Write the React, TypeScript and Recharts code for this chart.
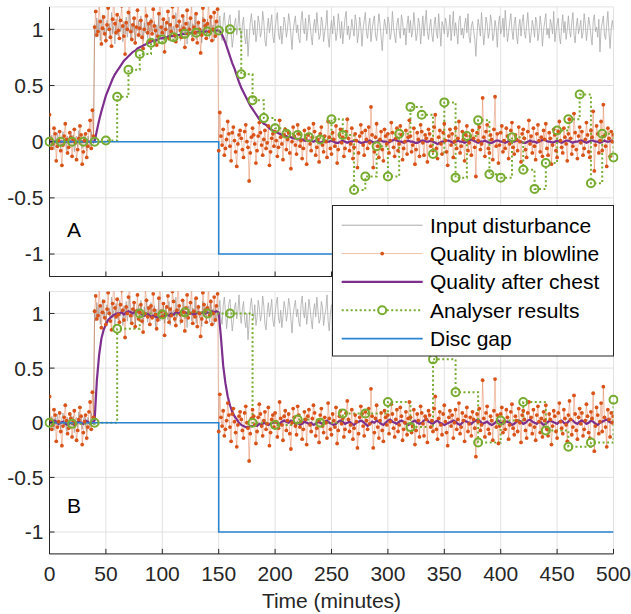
import { CartesianGrid, Line, LineChart, XAxis, YAxis } from "recharts";

const FONT = '"Liberation Sans", Arial, Helvetica, sans-serif';
const AXIS = "#262626";
const GRID = "#e2e2e2";
const ORANGE = "#D95319";
const PURPLE = "#7E2F8E";
const GREEN = "#77AC30";
const BLUE = "#2b84d0";
const GREY = "#aaaaaa";

const X_TICKS = [0, 50, 100, 150, 200, 250, 300, 350, 400, 450, 500];
const Y_TICKS = [-1, -0.5, 0, 0.5, 1];

// one value per minute, 0..500 (same signal in both panels)
const blowline = [
  0.24, 0.03, -0.06, -0.02, 0.12, 0.07, -0.17, -0.04, 0.01, 0.09,
  -0.08, -0.21, -0.03, 0.05, 0.16, 0.02, -0.1, -0.05, 0.08, 0.04,
  -0.13, 0.02, 0.11, -0.01, -0.16, -0.07, 0.03, 0.14, 0.06, -0.2,
  -0.09, 0.01, 0.07, -0.14, -0.04, 0.1, 0.19, -0.06, 0.28, 0.05,
  1.02, 1.16, 0.95, 0.98, 1.24, 1.07, 0.87, 1.01, 1.11, 0.96,
  0.9, 1.04, 1.19, 1.0, 0.93, 0.85, 1.09, 1.3, 1.05, 0.97,
  1.13, 0.99, 0.92, 1.08, 1.21, 1.03, 0.94, 0.78, 1.06, 1.0,
  1.15, 1.27, 0.98, 0.91, 1.04, 1.1, 0.88, 1.02, 1.17, 0.95,
  1.01, 1.08, 0.93, 0.83, 1.0, 1.22, 1.12, 0.97, 1.05, 0.9,
  1.07, 0.96, 1.18, 1.03, 0.99, 0.86, 0.94, 1.14, 1.25, 1.02,
  0.97, 1.09, 0.8, 1.0, 1.06, 1.16, 0.92, 1.04, 0.98, 1.2,
  1.11, 0.95, 0.89, 1.03, 1.28, 1.07, 0.99, 0.93, 1.12, 1.01,
  0.84, 1.05, 1.17, 0.96, 1.0, 1.1, 1.23, 0.91, 1.02, 0.97,
  1.14, 0.88, 1.06, 1.0, 0.79, 0.95, 1.19, 1.08, 1.03, 0.92,
  1.05, 1.26, 0.98, 1.11, 0.9, 1.0, 1.15, 0.94, 1.07, 1.18,
  -0.08, 0.26, 0.05, -0.03, 0.11, -0.12, -0.06, 0.02, 0.18, 0.07,
  -0.04, -0.17, 0.08, 0.13, 0.01, -0.09, -0.22, -0.02, 0.06, 0.1,
  0.03, -0.07, -0.14, 0.09, 0.15, 0.0, -0.05, -0.35, -0.1, 0.04,
  0.12, 0.06, -0.02, -0.19, -0.08, 0.05, 0.17, 0.08, -0.03, -0.12,
  0.02, 0.1, -0.06, -0.01, 0.14, -0.21, -0.09, 0.03, 0.07, -0.04,
  0.09, 0.01, -0.13, -0.05, 0.19, 0.04, -0.02, -0.16, 0.06, 0.11,
  -0.07, 0.02, 0.08, -0.1, -0.24, 0.0, 0.13, 0.05, -0.03, -0.11,
  0.15, 0.07, -0.04, 0.01, -0.15, -0.06, 0.1, 0.03, -0.2, 0.06,
  0.12, -0.02, -0.08, 0.04, 0.16, 0.09, -0.12, -0.05, 0.02, -0.18,
  0.07, 0.13, -0.03, -0.09, 0.05, 0.0, -0.14, 0.18, 0.04, -0.06,
  -0.11, 0.08, 0.02, -0.04, 0.14, -0.19, -0.07, 0.06, 0.11, -0.01,
  0.04, -0.13, -0.06, 0.09, 0.2, 0.03, -0.08, -0.02, 0.12, -0.15,
  -0.05, 0.07, 0.01, -0.23, -0.1, 0.05, 0.15, 0.08, -0.03, -0.12,
  0.1, 0.02, -0.06, 0.13, -0.01, 0.31, 0.06, -0.23, -0.09, 0.04,
  0.16, -0.04, -0.14, 0.02, 0.09, -0.07, -0.17, 0.11, 0.05, -0.02,
  0.07, -0.1, 0.01, 0.17, 0.08, -0.05, -0.13, 0.03, 0.12, -0.08,
  -0.02, 0.14, 0.06, -0.16, -0.06, 0.0, 0.1, -0.11, 0.04, 0.19,
  0.05, -0.09, -0.03, 0.12, -0.2, -0.07, 0.08, 0.02, -0.13, 0.15,
  0.09, -0.01, -0.12, 0.06, 0.03, -0.18, 0.11, 0.07, -0.04, 0.02,
  -0.08, 0.13, 0.24, -0.06, -0.15, 0.04, 0.1, -0.02, -0.11, 0.08,
  0.16, 0.01, -0.09, -0.21, 0.05, 0.11, -0.03, 0.07, -0.14, 0.0,
  0.12, -0.06, 0.03, 0.18, -0.1, -0.04, 0.09, 0.02, -0.17, 0.06,
  0.14, -0.08, -0.01, 0.05, -0.12, 0.1, 0.03, -0.05, -0.31, 0.08,
  0.01, 0.13, -0.07, -0.02, 0.39, 0.04, -0.13, 0.09, 0.15, -0.06,
  -0.1, 0.06, 0.02, -0.16, 0.11, 0.4, -0.04, 0.07, -0.19, -0.03,
  0.08, 0.14, -0.09, 0.01, -0.06, 0.12, 0.05, -0.15, -0.02, 0.1,
  0.17, -0.05, -0.11, 0.06, 0.02, -0.08, 0.13, 0.0, -0.18, 0.07,
  0.11, 0.03, -0.07, -0.14, 0.09, 0.19, -0.02, 0.05, -0.1, 0.12,
  -0.04, -0.16, 0.07, 0.15, 0.01, -0.09, 0.04, -0.13, 0.1, 0.02,
  0.16, -0.06, -0.12, 0.08, 0.03, -0.2, -0.03, 0.11, 0.06, -0.08,
  -0.14, 0.09, 0.18, 0.01, -0.05, -0.1, 0.12, 0.04, -0.02, -0.17,
  0.07, 0.2, 0.03, -0.11, -0.04, 0.25, 0.08, -0.07, -0.15, 0.05,
  0.13, -0.01, 0.09, -0.12, -0.06, 0.02, 0.17, 0.06, -0.09, -0.14,
  0.1, 0.04, 0.27, -0.26, -0.03, 0.14, 0.07, -0.1, 0.01, 0.18,
  -0.08, 0.33, 0.05, -0.04, -0.22, 0.12, 0.03, -0.13, 0.09, 0.0,
  0.06,
];

// one value per minute, 0..500
const disturbance = [
  0.03, -0.04, 0.06, 0.01, -0.07, 0.05, -0.02, 0.08, -0.05, 0.02,
  -0.06, 0.04, 0.09, -0.03, 0.01, -0.08, 0.05, 0.02, -0.04, 0.07,
  -0.01, 0.06, -0.09, 0.03, 0.05, -0.05, 0.1, -0.02, 0.04, -0.06,
  0.02, 0.07, -0.03, -0.08, 0.05, 0.01, -0.04, 0.09, 0.03, -0.02,
  1.04, 0.93, 1.1, 0.97, 1.06, 0.9, 1.02, 1.13, 0.95, 1.01,
  0.88, 1.08, 0.99, 1.05, 0.92, 1.15, 0.96, 1.03, 0.87, 1.09,
  1.0, 0.94, 1.12, 0.98, 1.04, 0.89, 1.07, 0.96, 1.11, 0.93,
  1.02, 1.16, 0.91, 1.05, 0.97, 1.09, 0.86, 1.03, 0.99, 1.08,
  0.94, 1.12, 1.0, 0.9, 1.06, 0.97, 1.14, 0.92, 1.03, 0.98,
  1.1, 0.95, 1.01, 1.07, 0.88, 1.04, 0.96, 1.13, 0.93, 1.02,
  0.97, 1.09, 0.91, 1.05, 1.0, 0.94, 1.11, 0.89, 1.06, 0.99,
  1.03, 0.92, 1.15, 0.96, 1.01, 1.08, 0.9, 1.04, 0.97, 1.12,
  0.95, 1.02, 0.87, 1.07, 0.99, 1.1, 0.93, 1.05, 0.98, 1.14,
  0.91, 1.03, 1.08, 0.96, 1.0, 0.88, 1.11, 0.97, 1.06, 0.94,
  1.09, 1.01, 0.92, 1.13, 0.98, 1.04, 0.9, 1.07, 0.95, 1.02,
  1.03, 1.12, 0.96, 0.9, 1.07, 1.15, 1.01, 0.86, 0.97, 1.09,
  1.13, 0.98, 0.84, 0.93, 1.05, 1.1, 0.95, 1.02, 1.17, 0.99,
  0.91, 1.04, 1.11, 0.94, 0.87, 1.0, 0.76, 0.92, 1.06, 1.14,
  1.02, 0.95, 1.08, 0.89, 0.96, 1.12, 1.05, 0.93, 0.99, 1.16,
  1.07, 0.9, 0.85, 1.01, 1.1, 0.97, 1.04, 1.13, 0.94, 0.88,
  1.0, 1.09, 1.15, 0.96, 0.91, 1.03, 0.87, 0.98, 1.11, 1.05,
  0.93, 1.0, 1.14, 1.07, 0.95, 0.82, 0.99, 1.06, 1.12, 0.97,
  1.04, 0.92, 0.88, 1.08, 1.16, 1.01, 0.96, 1.1, 0.9, 0.99,
  1.13, 1.05, 0.94, 0.86, 1.02, 1.09, 0.97, 1.15, 1.03, 0.91,
  0.95, 1.11, 1.06, 0.89, 0.98, 1.04, 1.17, 0.93, 0.84, 1.0,
  1.08, 0.96, 1.12, 1.02, 0.9, 0.97, 1.14, 1.05, 0.92, 1.07,
  0.87, 0.99, 1.1, 1.16, 0.95, 1.03, 0.91, 0.98, 1.09, 1.01,
  0.94, 1.13, 1.06, 0.88, 0.96, 1.11, 1.02, 0.85, 1.0, 1.08,
  1.15, 0.97, 0.92, 1.04, 1.1, 0.89, 0.99, 1.07, 1.12, 0.95,
  0.9, 1.01, 1.14, 1.05, 0.93, 0.81, 0.98, 1.09, 1.03, 0.96,
  1.11, 1.06, 0.91, 0.97, 1.16, 1.02, 0.94, 0.88, 1.05, 1.1,
  0.99, 0.92, 1.13, 1.07, 0.95, 1.01, 0.86, 1.04, 1.12, 0.97,
  1.08, 0.93, 0.99, 1.15, 1.03, 0.9, 0.96, 1.1, 1.05, 0.87,
  1.0, 1.12, 0.94, 1.06, 1.17, 0.98, 0.91, 1.02, 1.09, 0.95,
  0.89, 1.04, 1.11, 0.97, 0.92, 1.14, 1.0, 0.85, 1.07, 1.03,
  0.96, 1.1, 1.05, 0.93, 0.99, 1.13, 0.9, 1.02, 1.16, 0.94,
  1.06, 0.98, 0.87, 1.08, 1.12, 0.95, 1.01, 0.92, 1.04, 1.1,
  0.97, 1.14, 0.93, 0.88, 1.03, 1.07, 0.99, 0.91, 0.76, 0.96,
  1.09, 1.02, 0.94, 1.15, 1.0, 0.86, 0.97, 1.11, 1.05, 0.92,
  0.98, 1.13, 1.06, 0.9, 0.95, 1.08, 1.01, 0.84, 1.04, 1.12,
  0.96, 1.0, 1.1, 0.93, 1.17, 1.03, 0.89, 0.97, 1.07, 1.14,
  0.99, 0.91, 1.05, 1.11, 0.95, 0.87, 1.02, 1.09, 0.94, 1.06,
  1.13, 0.98, 0.92, 1.04, 1.15, 1.0, 0.88, 0.96, 1.08, 1.02,
  0.93, 1.11, 1.06, 0.9, 0.97, 1.12, 1.03, 0.85, 0.99, 1.07,
  1.14, 0.95, 1.01, 0.92, 1.09, 1.04, 0.96, 1.16, 0.89, 0.98,
  1.05, 1.1, 0.94, 0.87, 1.02, 1.13, 0.97, 1.07, 0.91, 1.0,
  1.12, 0.99, 0.93, 1.06, 1.15, 0.95, 0.88, 1.03, 1.1, 0.96,
  1.01, 1.08, 0.92, 0.97, 1.14, 1.05, 0.9, 0.99, 1.11, 1.04,
  0.94, 0.86, 1.07, 1.13, 0.98, 1.02, 0.93, 1.09, 0.8, 1.0,
  1.06, 1.12, 0.95, 0.91, 1.04, 1.16, 0.97, 0.83, 1.01, 1.08,
  1.0,
];

// quality after chest, one value every 2 minutes, 0..500
const chestA = [
  0, 0, 0, 0, 0, 0, 0, 0, 0, 0,
  0, 0, 0, 0, 0, 0, 0, 0, 0, 0,
  0, 0.1, 0.19, 0.27, 0.34, 0.41, 0.46, 0.51, 0.56, 0.6,
  0.63, 0.66, 0.69, 0.72, 0.74, 0.76, 0.78, 0.8, 0.81, 0.83,
  0.84, 0.85, 0.86, 0.87, 0.88, 0.89, 0.9, 0.9, 0.91, 0.92,
  0.92, 0.93, 0.93, 0.94, 0.94, 0.94, 0.95, 0.95, 0.95, 0.96,
  0.96, 0.96, 0.97, 0.97, 0.97, 0.97, 0.98, 0.98, 0.98, 0.98,
  0.98, 0.98, 0.99, 0.99, 0.99, 0.99,
  0.97, 0.93, 0.88, 0.82, 0.76, 0.7, 0.65, 0.59, 0.53, 0.48,
  0.44, 0.4, 0.36, 0.32, 0.29, 0.26, 0.23, 0.2, 0.18, 0.16,
  0.15, 0.13, 0.11, 0.1, 0.09, 0.08, 0.07, 0.06, 0.05, 0.05,
  0.04, 0.04, 0.03, 0.03, 0.02, 0.02, 0.02, 0.01, 0.01, 0.01,
  0.01, 0, 0.01, 0, -0.01, 0, 0.01, 0, 0, 0.01,
  0, -0.01, -0.01, 0, 0.01, 0, -0.01, 0, 0, 0.01,
  0.01, 0, -0.01, -0.01, 0, 0, 0.01, 0, -0.01, 0,
  0.01, 0.01, 0, 0, -0.01, 0, 0.01, 0.02, 0.01, 0,
  0, -0.01, 0, 0.01, 0, 0, -0.01, -0.01, 0, 0.01,
  0.01, 0, 0, 0.01, 0, -0.01, -0.02, -0.01, 0, 0,
  0.01, 0.01, 0, -0.01, 0, 0.01, 0, 0, -0.01, 0,
  0.01, 0.02, 0.01, 0, -0.01, 0, 0, 0.01, 0, -0.01,
  -0.01, 0, 0.01, 0.01, 0, 0, -0.01, 0, 0.01, 0,
  0, 0.01, 0.01, 0, -0.01, -0.01, 0, 0.01, 0, 0,
  -0.01, 0, 0.01, 0.02, 0.01, 0, 0, -0.01, 0, 0.01,
  0, -0.01, 0, 0.01, 0.01, 0, -0.01, 0, 0, 0.01,
  0.01, 0, -0.01, 0, 0.01, 0.01, 0, 0, -0.01, 0,
  0.01, 0, 0, 0.01, 0,
];

const chestB = [
  0, 0.01, 0.02, 0.01, -0.01, 0, 0.01, -0.01, -0.02, 0,
  -0.01, -0.02, 0, 0.01, 0, -0.01, 0.02, 0.01, -0.01, 0,
  0.02, 0.39, 0.62, 0.77, 0.85, 0.9, 0.94, 0.96, 0.98, 0.99,
  1.0, 1.0, 1.01, 0.99, 1.01, 1.02, 1.01, 1.0, 1.02, 1.03,
  1.01, 0.99, 0.98, 1.0, 0.99, 0.97, 0.98, 0.97, 0.96, 0.97,
  0.96, 0.98, 0.99, 0.98, 1.0, 0.99, 1.01, 1.0, 1.01, 1.02,
  1.01, 1.0, 1.01, 1.0, 0.99, 1.0, 1.01, 1.0, 1.01, 1.0,
  1.01, 1.0, 1.02, 1.01, 1.02, 1.01,
  0.78, 0.52, 0.36, 0.24, 0.16, 0.1, 0.06, 0.03, 0, -0.02,
  -0.03, -0.04, -0.04, -0.03, -0.03, -0.02, -0.03, -0.01, -0.02, 0,
  -0.01, -0.02, -0.01, 0, 0.01, 0, -0.01, 0.01, 0.02, 0.01,
  0, 0.02, 0.01, -0.01, 0, -0.02, -0.01, 0.01, 0, -0.01,
  0, -0.02, -0.01, 0.01, 0, -0.01, 0.01, 0.02, 0, -0.01,
  -0.02, -0.01, 0.01, 0.02, 0.01, -0.01, 0, 0.01, -0.01, -0.02,
  0, 0.01, 0.02, 0.01, -0.01, -0.03, -0.01, 0.01, 0, 0.02,
  0.01, -0.01, -0.02, 0, 0.02, 0.03, 0.01, 0, -0.01, 0.01,
  0.02, 0.01, -0.01, -0.02, -0.01, 0.01, 0.02, 0, -0.01, 0,
  0.02, 0.04, 0.01, 0, -0.01, 0.01, 0.02, 0, -0.01, -0.02,
  -0.01, 0, 0.01, 0.02, 0.01, -0.01, -0.02, 0, 0.02, 0.01,
  0, -0.01, 0.01, 0.02, 0.03, 0.01, -0.01, 0, 0.01, -0.01,
  -0.02, -0.01, 0.01, 0.02, 0, -0.01, 0.01, 0.01, 0, -0.02,
  -0.01, 0.01, 0.02, 0.01, -0.01, 0, 0.02, 0.03, 0.01, 0,
  -0.01, 0.01, 0, -0.02, -0.01, 0.01, 0.02, 0.01, 0, -0.01,
  0.01, 0.02, 0, -0.01, 0.01, 0.03, 0.02, 0, -0.01, 0.01,
  0.02, 0.01, -0.01, 0, 0.02, 0.01, -0.01, -0.02, 0, 0.01,
  0.02, 0.03, 0.01, 0, 0.01,
];

// analyser: every 10 min in A, every 20 min in B
const analyserA = [
  0, 0, 0, 0, 0, 0.01, 0.4, 0.64, 0.78, 0.88,
  0.91, 0.93, 0.96, 0.97, 0.98, 0.99, 1.0, 0.6, 0.37, 0.21,
  0.12, 0.07, 0.06, 0.04, 0.02, 0.2, 0.06, -0.43, -0.31, -0.04,
  -0.31, 0.07, 0.31, 0.24, -0.11, 0.35, -0.32, 0.05, 0.19, -0.29,
  -0.32, 0.04, -0.25, -0.42, -0.19, 0.1, 0.2, 0.42, -0.37, 0.07,
  -0.14,
];
const analyserB = [
  0, -0.01, 0, 0.86, 1.0, 0.99, 1.01, 1.0, 1.0, 0.0,
  -0.02, 0.03, 0.0, 0.085, 0.085, 0.19, -0.04, 0.58, 0.28, -0.18,
  0.02, 0.19, -0.07, -0.22, -0.18, 0.21,
];

const discGapTimes = [0, 150, 500];
const discGap = [0, -1, -1];

const LEGEND = ["Input disturbance", "Quality in blowline", "Quality after chest", "Analyser results", "Disc gap"];

const toPoints = (values: number[], step: number) => values.map((v, i) => ({ t: i * step, v }));

const disturbanceData = toPoints(disturbance, 1);
const blowlineData = toPoints(blowline, 1);
const discGapData = discGapTimes.map((t, i) => ({ t, v: discGap[i] }));

const tickText = { fontSize: 21, fill: AXIS, fontFamily: FONT };
const noLabel = () => <g />;

type PanelProps = {
  height: number;
  top: number;
  xAxisHeight: number;
  chest: { t: number; v: number }[];
  analyser: { t: number; v: number }[];
  showX: boolean;
};

function Panel({ height, top, xAxisHeight, chest, analyser, showX }: PanelProps) {
  return (
    <LineChart width={631} height={height} margin={{ top, right: 17.5, bottom: 0, left: 0 }}>
      <CartesianGrid stroke={GRID} strokeWidth={1} />
      <XAxis
        type="number"
        dataKey="t"
        domain={[0, 500]}
        ticks={X_TICKS}
        interval={0}
        allowDataOverflow
        height={xAxisHeight}
        stroke={AXIS}
        tickSize={-5}
        tickMargin={17}
        tick={showX ? tickText : noLabel}
        label={
          showX
            ? { value: "Time (minutes)", position: "insideBottom", offset: 6, fill: AXIS, fontSize: 21, fontFamily: FONT }
            : undefined
        }
      />
      <XAxis
        xAxisId="top"
        orientation="top"
        type="number"
        domain={[0, 500]}
        ticks={X_TICKS}
        interval={0}
        allowDataOverflow
        height={0}
        stroke={AXIS}
        tickSize={-5}
        tick={noLabel}
      />
      <YAxis
        type="number"
        domain={[-1.2, 1.2]}
        ticks={Y_TICKS}
        interval={0}
        allowDataOverflow
        width={49.5}
        stroke={AXIS}
        tickSize={-5}
        tickMargin={11}
        tick={tickText}
      />
      <YAxis
        yAxisId="right"
        orientation="right"
        type="number"
        domain={[-1.2, 1.2]}
        ticks={Y_TICKS}
        interval={0}
        allowDataOverflow
        width={0}
        stroke={AXIS}
        tickSize={-5}
        tick={noLabel}
      />
      <Line
        data={disturbanceData}
        dataKey="v"
        type="linear"
        stroke={GREY}
        strokeWidth={0.8}
        dot={false}
        isAnimationActive={false}
      />
      <Line
        data={blowlineData}
        dataKey="v"
        type="linear"
        stroke={ORANGE}
        strokeOpacity={0.45}
        strokeWidth={0.8}
        dot={{ r: 1.9, fill: ORANGE, stroke: "none", strokeOpacity: 1 }}
        isAnimationActive={false}
      />
      <Line
        data={chest}
        dataKey="v"
        type="linear"
        stroke={PURPLE}
        strokeWidth={2.2}
        dot={false}
        isAnimationActive={false}
      />
      <Line
        data={analyser}
        dataKey="v"
        type="stepAfter"
        stroke={GREEN}
        strokeWidth={2}
        strokeDasharray="2 2.5"
        dot={{ r: 4, fill: "none", stroke: GREEN, strokeWidth: 2, strokeDasharray: "none", clipDot: false }}
        isAnimationActive={false}
      />
      <Line
        data={discGapData}
        dataKey="v"
        type="stepAfter"
        stroke={BLUE}
        strokeWidth={1.6}
        dot={false}
        isAnimationActive={false}
      />
    </LineChart>
  );
}

function LegendBox() {
  const x0 = 332.5;
  const y0 = 205.5;
  const base = 232.7;
  const gap = 28.35;
  const sx1 = 341.7;
  const sx2 = 422.7;
  const mid = (sx1 + sx2) / 2;
  return (
    <g>
      <rect x={x0} y={y0} width={281} height={150.5} fill="#fff" stroke={AXIS} strokeWidth={1} />
      {LEGEND.map((name, i) => {
        const yb = base + i * gap;
        const ym = yb - 7.5;
        return (
          <g key={name}>
            {i === 0 && <line x1={sx1} x2={sx2} y1={ym} y2={ym} stroke={GREY} strokeWidth={1} />}
            {i === 1 && (
              <>
                <line x1={sx1} x2={sx2} y1={ym} y2={ym} stroke={ORANGE} strokeOpacity={0.45} strokeWidth={0.8} />
                <circle cx={mid} cy={ym} r={1.9} fill={ORANGE} />
              </>
            )}
            {i === 2 && <line x1={sx1} x2={sx2} y1={ym} y2={ym} stroke={PURPLE} strokeWidth={2.2} />}
            {i === 3 && (
              <>
                <line x1={sx1} x2={sx2} y1={ym} y2={ym} stroke={GREEN} strokeWidth={2} strokeDasharray="2 2.5" />
                <circle cx={mid} cy={ym} r={4} fill="#fff" stroke={GREEN} strokeWidth={2} />
              </>
            )}
            {i === 4 && <line x1={sx1} x2={sx2} y1={ym} y2={ym} stroke={BLUE} strokeWidth={1.6} />}
            <text x={430} y={yb} fontSize={21} fontFamily={FONT} fill="#000">
              {name}
            </text>
          </g>
        );
      })}
    </g>
  );
}

export default function App() {
  return (
    <div style={{ position: "absolute", left: 0, top: 0, width: 631, height: 614, background: "#fff" }}>
      <div style={{ position: "absolute", left: 0, top: 0 }}>
        <Panel height={282} top={6.9} xAxisHeight={5.5} chest={toPoints(chestA, 2)} analyser={toPoints(analyserA, 10)} showX={false} />
      </div>
      <div style={{ position: "absolute", left: 0, top: 280 }}>
        <Panel height={334} top={11.6} xAxisHeight={60.1} chest={toPoints(chestB, 2)} analyser={toPoints(analyserB, 20)} showX />
      </div>
      <svg width={631} height={614} style={{ position: "absolute", left: 0, top: 0, pointerEvents: "none" }}>
        <text x={67} y={237} fontSize={21} fontFamily={FONT} fill="#000">A</text>
        <text x={67} y={513} fontSize={21} fontFamily={FONT} fill="#000">B</text>
        <LegendBox />
      </svg>
    </div>
  );
}
